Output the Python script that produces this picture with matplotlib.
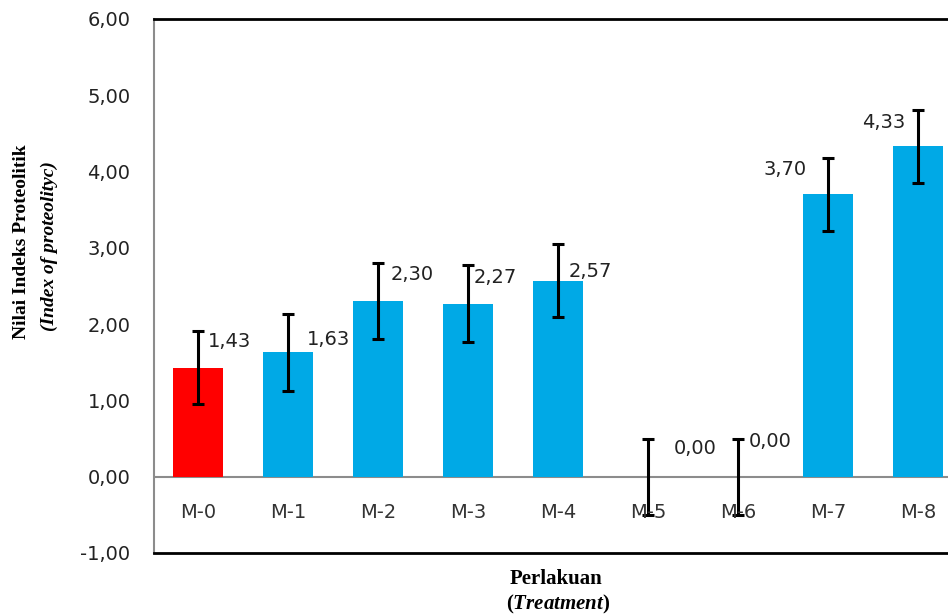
import matplotlib
matplotlib.use("Agg")
import matplotlib.pyplot as plt
import numpy as np

plt.rcParams["mathtext.fontset"] = "custom"
plt.rcParams["mathtext.bfit"] = "Liberation Serif:italic:bold"
plt.rcParams["mathtext.bf"] = "Liberation Serif:bold"
plt.rcParams["mathtext.rm"] = "Liberation Serif"

# data
treatments = ["M-0", "M-1", "M-2", "M-3", "M-4", "M-5", "M-6", "M-7", "M-8"]
index_values = [1.43, 1.63, 2.30, 2.27, 2.57, 0.00, 0.00, 3.70, 4.33]
errors = [0.48, 0.50, 0.50, 0.50, 0.48, 0.50, 0.50, 0.48, 0.48]
value_labels = ["1,43", "1,63", "2,30", "2,27", "2,57", "0,00", "0,00", "3,70", "4,33"]
y_ticks = [-1, 0, 1, 2, 3, 4, 5, 6]
y_tick_labels = ["-1,00", "0,00", "1,00", "2,00", "3,00", "4,00", "5,00", "6,00"]

colors = ["#ff0000"] + ["#00a9e6"] * 8
# label offsets in pixels (dx, dy) from the bar top, as placed in the original
offsets = [(31, 26), (40, 13), (34, 27), (27, 26), (32, 9), (47, 28), (32, 35), (-43, 25), (-35, 24)]

fig = plt.figure(figsize=(9.48, 6.16), dpi=100)
ax = fig.add_axes([154 / 948, 1 - 553 / 616, (948 - 154) / 948, (553 - 19) / 616])

x = np.arange(len(treatments))
ax.bar(x, index_values, width=0.555, color=colors, zorder=2)
ax.errorbar(x, index_values, yerr=errors, fmt="none", ecolor="black",
            elinewidth=2.2, capsize=4.5, capthick=2.2, zorder=3)
ax.axhline(0, color="#8c8c8c", lw=1.5, zorder=1)

for xi, v, lab, (dx, dy) in zip(x, index_values, value_labels, offsets):
    ax.annotate(lab, (xi, v), xytext=(dx, dy), textcoords="offset pixels",
                ha="center", va="center", fontsize=14, family="DejaVu Sans", color="#222222")

ax.set_xlim(-0.49, 8.33)
ax.set_ylim(-1, 6)
ax.set_yticks(y_ticks)
ax.set_yticklabels(y_tick_labels, family="DejaVu Sans", fontsize=14, color="#222222")
ax.tick_params(axis="y", length=0, pad=17)
ax.set_xticks([])
for xi, t in zip(x, treatments):
    ax.text(xi, -0.47, t, ha="center", va="center", fontsize=14,
            family="DejaVu Sans", color="#333333")

ax.spines["right"].set_visible(False)
ax.spines["left"].set_color("#8c8c8c")
ax.spines["left"].set_linewidth(1.5)
ax.spines["top"].set_linewidth(2)
ax.spines["bottom"].set_linewidth(2)

fig.text(22 / 948, 1 - 242 / 616, "Nilai Indeks Proteolitik", rotation=90,
         ha="center", va="center", family="Liberation Serif", fontweight="bold", fontsize=14)
fig.text(49 / 948, 1 - 246 / 616, "(Index of proteolityc)", rotation=90,
         ha="center", va="center", family="Liberation Serif", fontweight="bold",
         fontstyle="italic", fontsize=14)
fig.text(556 / 948, 1 - 579 / 616, "Perlakuan", ha="center", va="center",
         family="Liberation Serif", fontweight="bold", fontsize=15)
fig.text(558 / 948, 1 - 604 / 616, r"$\mathbf{(}\mathbfit{Treatment}\mathbf{)}$",
         ha="center", va="center", fontsize=15)

fig.savefig("out.png", dpi=100)
